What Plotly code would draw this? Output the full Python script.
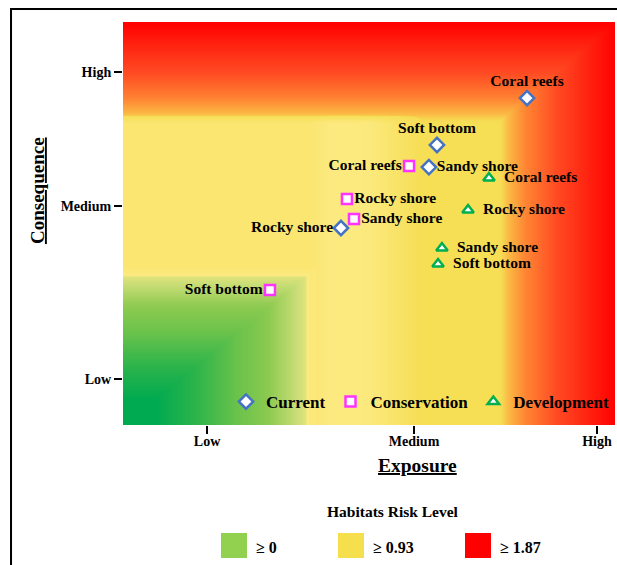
import numpy as np
import plotly.graph_objects as go

# ---------------- data ----------------
tick_labels = ["Low", "Medium", "High"]
x_tickvals = [1.0, 2.0, 2.884]
y_tickvals = [1.0, 2.0, 2.775]

current_names = ["Coral reefs", "Soft bottom", "Sandy shore", "Rocky shore"]
current_x = [2.546, 2.111, 2.072, 1.647]
current_y = [2.624, 2.353, 2.225, 1.873]
current_pos = ["top center", "top center", "middle right", "middle left"]

conservation_names = ["Coral reefs", "Rocky shore", "Sandy shore", "Soft bottom"]
conservation_x = [1.976, 1.676, 1.710, 1.304]
conservation_y = [2.231, 2.040, 1.925, 1.514]
conservation_pos = ["middle left", "middle right", "middle right", "middle left"]

development_names = ["Coral reefs", "Rocky shore", "Sandy shore", "Soft bottom"]
development_x = [2.362, 2.261, 2.135, 2.116]
development_y = [2.162, 1.977, 1.757, 1.665]
development_pos = ["middle right", "middle right", "middle right", "middle right"]

risk_levels = ["≥ 0", "≥ 0.93", "≥ 1.87"]
risk_colors = ["#92D050", "#F5DF4D", "#FF0000"]

x_range = [0.594, 2.971]
y_range = [0.734, 3.064]

# ---------------- background risk surface ----------------
red_top_start, red_right_start = 2.48, 2.401
green_x_end, green_y_end = 1.531, 1.647

gx = np.linspace(x_range[0], x_range[1], 240)
gy = np.linspace(y_range[0], y_range[1], 200)
X, Y = np.meshgrid(gx, gy)

dt = (y_range[1] - Y) / (y_range[1] - red_top_start)
dr = (x_range[1] - X) / (x_range[1] - red_right_start)
r = np.clip(1 - np.minimum(dt, dr), 0, 1)

gl = (X - x_range[0]) / (green_x_end - x_range[0])
gb = (Y - y_range[0]) / (green_y_end - y_range[0])
g = np.clip(1 - np.maximum(gl, gb), 0, 1)

s_yel = np.interp(X, [1.498, 1.594, 1.773, 2.03], [0.35, 0.0, 0.05, 1.0])
w_r = np.clip(r / 0.08, 0, 1)
S = s_yel.copy()
S = np.where(r > 0, (1 + r) * w_r + s_yel * (1 - w_r), S)
S = np.where(g > 0, np.maximum(-1.2 * g, -1) + s_yel * np.clip(1 - g / 0.06, 0, 1), S)

colorscale = [
    [0.0, "rgb(0,170,80)"],
    [0.0833, "rgb(45,180,75)"],
    [0.1667, "rgb(105,194,75)"],
    [0.2333, "rgb(140,202,80)"],
    [0.2933, "rgb(205,222,120)"],
    [0.3333, "rgb(252,234,128)"],
    [0.6667, "rgb(246,222,85)"],
    [0.6933, "rgb(250,190,70)"],
    [0.75, "rgb(255,130,50)"],
    [0.8333, "rgb(255,75,35)"],
    [1.0, "rgb(255,0,0)"],
]

fig = go.Figure()
fig.add_trace(go.Heatmap(
    x=gx, y=gy, z=S, zmin=-1, zmax=2, colorscale=colorscale,
    zsmooth="best", showscale=False, hoverinfo="skip", showlegend=False,
))

serif = "Liberation Serif"
label_font = dict(family=serif, size=15.5, color="black", weight="bold")

fig.add_trace(go.Scatter(
    x=current_x, y=current_y, mode="markers+text", name="Current",
    text=current_names, textposition=current_pos, textfont=label_font,
    marker=dict(symbol="diamond", size=11, color="white",
                line=dict(color="#4472C4", width=2.5)),
))
fig.add_trace(go.Scatter(
    x=conservation_x, y=conservation_y, mode="markers+text", name="Conservation",
    text=conservation_names, textposition=conservation_pos, textfont=label_font,
    marker=dict(symbol="square", size=10, color="white",
                line=dict(color="#FF33FF", width=2.5)),
))
fig.add_trace(go.Scatter(
    x=development_x, y=development_y, mode="markers+text", name="Development",
    text=["  " + t for t in development_names], textposition=development_pos,
    textfont=label_font,
    marker=dict(symbol="triangle-up", size=10, color="white",
                line=dict(color="#00B050", width=2.5)),
))

axis_common = dict(
    showgrid=False, zeroline=False, showline=False,
    ticks="outside", ticklen=8, tickwidth=1.5, tickcolor="black",
    tickfont=dict(family=serif, size=14, color="black", weight="bold"),
    ticktext=tick_labels, tickmode="array",
)
fig.update_xaxes(range=x_range, tickvals=x_tickvals, ticklabelstandoff=-5, **axis_common)
fig.update_yaxes(range=y_range, tickvals=y_tickvals, **axis_common)

shapes = [dict(type="rect", xref="paper", yref="paper",
               x0=-0.2276, x1=1.3, y0=1.0323, y1=-0.6,
               line=dict(color="black", width=2), fillcolor="rgba(0,0,0,0)",
               layer="above")]
annotations = [
    dict(text="<u>Exposure</u>", xref="paper", yref="paper", x=0.5976, y=-0.0993,
         showarrow=False, xanchor="center", yanchor="middle",
         font=dict(family=serif, size=19.5, color="black", weight="bold")),
    dict(text="<u>Consequence</u>", xref="paper", yref="paper", x=-0.1748, y=0.583,
         showarrow=False, xanchor="center", yanchor="middle", textangle=-90,
         font=dict(family=serif, size=19, color="black", weight="bold")),
    dict(text="Habitats Risk Level", xref="paper", yref="paper", x=0.5488, y=-0.2134,
         showarrow=False, xanchor="center", yanchor="middle",
         font=dict(family=serif, size=15.5, color="black", weight="bold")),
]
sw_x0 = [221, 338, 465]
for i, (lab, col) in enumerate(zip(risk_levels, risk_colors)):
    px0 = sw_x0[i]
    shapes.append(dict(type="rect", xref="paper", yref="paper",
                       x0=(px0 - 123) / 492, x1=(px0 + 26 - 123) / 492,
                       y0=(425 - 533) / 403, y1=(425 - 558) / 403,
                       line=dict(width=0), fillcolor=col))
    annotations.append(dict(text=lab, xref="paper", yref="paper",
                            x=(px0 + 33 - 123) / 492, y=(425 - 547) / 403,
                            showarrow=False, xanchor="left", yanchor="middle",
                            font=dict(family=serif, size=16, color="black", weight="bold")))

fig.update_layout(
    width=617, height=565,
    margin=dict(l=123, r=2, t=22, b=140),
    paper_bgcolor="white", plot_bgcolor="white",
    shapes=shapes, annotations=annotations,
    legend=dict(orientation="h", x=1.0, xanchor="right", y=0.057, yanchor="middle",
                bgcolor="rgba(0,0,0,0)", itemwidth=30,
                font=dict(family=serif, size=17, color="black", weight="bold")),
)

fig.write_html("out.html", config={"displayModeBar": False},
               post_script="document.body.style.margin='0';document.body.style.overflow='hidden';")
